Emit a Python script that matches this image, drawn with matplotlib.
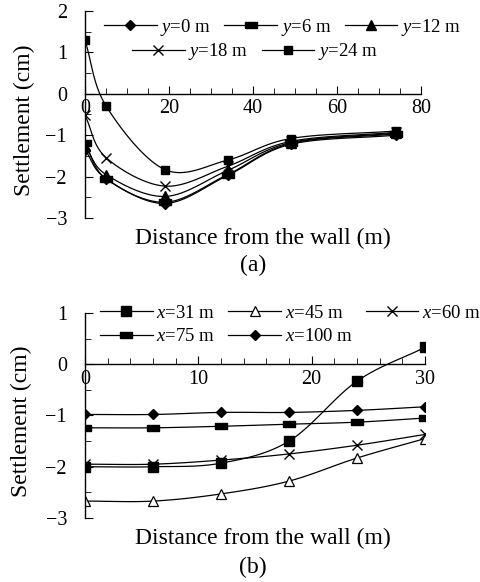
import numpy as np
import matplotlib
matplotlib.use("Agg")
import matplotlib.pyplot as plt
from matplotlib.ticker import MultipleLocator

plt.rcParams['font.family'] = ['Liberation Serif', 'DejaVu Serif']
plt.rcParams['mathtext.fontset'] = 'custom'
plt.rcParams['mathtext.it'] = 'Liberation Serif:italic'
plt.rcParams['mathtext.rm'] = 'Liberation Serif'

# (a) settlement vs distance, several y sections
distA = [0, 5, 19, 34, 49, 74]
y0 = [-1.35, -2.05, -2.65, -1.97, -1.22, -1.0]
y6 = [-1.2, -2.05, -2.62, -1.95, -1.2, -0.97]
y12 = [-1.25, -1.95, -2.48, -1.85, -1.18, -0.95]
y18 = [-0.52, -1.54, -2.23, -1.75, -1.15, -0.93]
y24 = [1.29, -0.29, -1.83, -1.6, -1.08, -0.9]
labelsA = ["$y$=0 m", "$y$=6 m", "$y$=12 m", "$y$=18 m", "$y$=24 m"]

# (b) settlement vs distance, several x sections
distB = [0, 6, 12, 18, 24, 30]
x31 = [-2.0, -2.0, -1.93, -1.5, -0.33, 0.33]
x45 = [-2.67, -2.67, -2.53, -2.28, -1.83, -1.45]
x60 = [-1.95, -1.95, -1.87, -1.75, -1.58, -1.37]
x75 = [-1.24, -1.24, -1.21, -1.17, -1.13, -1.05]
x100 = [-0.98, -0.98, -0.94, -0.94, -0.9, -0.83]
labelsB = ["$x$=31 m", "$x$=45 m", "$x$=60 m", "$x$=75 m", "$x$=100 m"]

rect = [(-1, -0.45), (1, -0.45), (1, 0.45), (-1, 0.45), (-1, -0.45)]


def smooth(x, y, n=24):
    # Catmull-Rom curve through the points, like a smoothed spreadsheet line
    x = np.asarray(x, float)
    y = np.asarray(y, float)
    px = np.concatenate([[2 * x[0] - x[1]], x, [2 * x[-1] - x[-2]]])
    py = np.concatenate([[2 * y[0] - y[1]], y, [2 * y[-1] - y[-2]]])
    t = np.linspace(0, 1, n)
    xs, ys = [], []
    for i in range(1, len(px) - 2):
        for p, out in ((px, xs), (py, ys)):
            p0, p1, p2, p3 = p[i - 1], p[i], p[i + 1], p[i + 2]
            out.extend(0.5 * (2 * p1 + (-p0 + p2) * t
                              + (2 * p0 - 5 * p1 + 4 * p2 - p3) * t ** 2
                              + (-p0 + 3 * p1 - 3 * p2 + p3) * t ** 3))
    return xs, ys


def plot_series(ax, x, y, label, **kw):
    sx, sy = smooth(x, y)
    ax.plot(sx, sy, color="black", linewidth=0.9)
    ax.plot(x, y, linestyle="none", color="black", **kw)
    return plt.Line2D([], [], color="black", linewidth=0.9, label=label, **kw)


def style_axes(ax):
    for s in ["top", "right"]:
        ax.spines[s].set_visible(False)
    ax.spines["bottom"].set_position(("data", 0))
    ax.spines["left"].set_linewidth(1.0)
    ax.spines["bottom"].set_linewidth(1.0)
    ax.tick_params(axis="both", which="both", direction="in", labelsize=14.5, color="black")
    ax.tick_params(axis="y", which="major", length=6, pad=13)
    ax.tick_params(axis="y", which="minor", length=4)
    ax.tick_params(axis="x", which="major", length=6, pad=4)
    ax.tick_params(axis="x", which="minor", length=4)
    ax.yaxis.set_major_locator(MultipleLocator(1))
    ax.yaxis.set_minor_locator(MultipleLocator(0.5))
    ax.set_ylabel("Settlement (cm)", fontsize=17)


fig = plt.figure(figsize=(4.81, 5.82), dpi=100)
W, H = 481.0, 582.0

axA = fig.add_axes([85 / W, 1 - 218 / H, 336 / W, 207 / H])
hA = [
    plot_series(axA, distA, y0, labelsA[0], marker="D", markersize=5.5),
    plot_series(axA, distA, y6, labelsA[1], marker=rect, markersize=9),
    plot_series(axA, distA, y12, labelsA[2], marker="^", markersize=6.5),
    plot_series(axA, distA, y18, labelsA[3], marker="x", markersize=7, markeredgewidth=1.0),
    plot_series(axA, distA, y24, labelsA[4], marker="s", markersize=6),
]
axA.set_xlim(0, 80)
axA.set_ylim(-3, 2)
axA.xaxis.set_major_locator(MultipleLocator(20))
axA.xaxis.set_minor_locator(MultipleLocator(5))
style_axes(axA)
axA.yaxis.set_label_coords(-0.15, 0.47)

legkw = dict(frameon=False, fontsize=13.5, handlelength=2.8, handletextpad=0.2,
             columnspacing=0.7, borderpad=0, borderaxespad=0, labelspacing=0.35)
fig.legend(handles=hA[:3], ncol=3, loc="center left",
           bbox_to_anchor=(104 / W, 1 - 27 / H), **legkw)
fig.legend(handles=hA[3:], ncol=2, loc="center left",
           bbox_to_anchor=(132 / W, 1 - 52 / H), **legkw)

fig.text(263 / W, 1 - 238 / H, "Distance from the wall (m)", ha="center", va="center", fontsize=17)
fig.text(253 / W, 1 - 265 / H, "(a)", ha="center", va="center", fontsize=17)

axB = fig.add_axes([85 / W, 1 - 518 / H, 340 / W, 205 / H])
hB = [
    plot_series(axB, distB, x31, labelsB[0], marker="s", markersize=7.5),
    plot_series(axB, distB, x45, labelsB[1], marker="^", markersize=6.5,
                markerfacecolor="white", markeredgewidth=0.9),
    plot_series(axB, distB, x60, labelsB[2], marker="x", markersize=7, markeredgewidth=1.0),
    plot_series(axB, distB, x75, labelsB[3], marker=rect, markersize=9),
    plot_series(axB, distB, x100, labelsB[4], marker="D", markersize=5.5),
]
axB.set_xlim(0, 30)
axB.set_ylim(-3, 1)
axB.xaxis.set_major_locator(MultipleLocator(10))
axB.xaxis.set_minor_locator(MultipleLocator(2))
style_axes(axB)
axB.yaxis.set_label_coords(-0.155, 0.47)

# legend fills column by column, so order the handles to read row by row
fig.legend(handles=[hB[0], hB[3], hB[1], hB[4], hB[2]], ncol=3, loc="center left",
           bbox_to_anchor=(100 / W, 1 - 325 / H), **legkw)

fig.text(263 / W, 1 - 538 / H, "Distance from the wall (m)", ha="center", va="center", fontsize=17)
fig.text(253 / W, 1 - 567 / H, "(b)", ha="center", va="center", fontsize=17)

fig.savefig("out.png", dpi=100)
